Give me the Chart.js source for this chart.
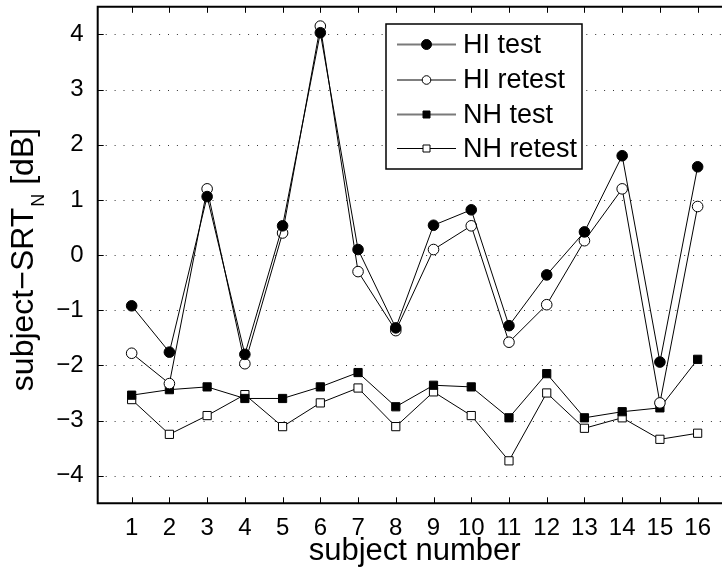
<!DOCTYPE html>
<html>
<head>
<meta charset="utf-8">
<script src="https://cdn.jsdelivr.net/npm/chart.js@4"></script>
<style>
html,body{margin:0;padding:0;background:#fff;overflow:hidden;}
#wrap{width:722px;height:572px;overflow:hidden;position:relative;}
canvas{display:block;}
</style>
</head>
<body>
<div id="wrap"><canvas id="c" width="740" height="572" style="width:740px;height:572px"></canvas></div>
<script>
// ---- data ----
const subjects = [1,2,3,4,5,6,7,8,9,10,11,12,13,14,15,16];
const hiTest   = [-0.92,-1.76,1.06,-1.80,0.53,4.03,0.10,-1.32,0.54,0.82,-1.28,-0.36,0.42,1.80,-1.94,1.60];
const hiRetest = [-1.78,-2.33,1.20,-1.97,0.40,4.15,-0.30,-1.37,0.10,0.53,-1.58,-0.90,0.26,1.20,-2.68,0.88];
const nhTest   = [-2.54,-2.44,-2.39,-2.60,-2.60,-2.39,-2.13,-2.75,-2.36,-2.39,-2.95,-2.15,-2.95,-2.84,-2.77,-1.89];
const nhRetest = [-2.62,-3.25,-2.91,-2.53,-3.11,-2.68,-2.41,-3.11,-2.48,-2.91,-3.73,-2.50,-3.14,-2.95,-3.34,-3.23];
const yTickValues = [-4,-3,-2,-1,0,1,2,3,4];
const seriesLabels = ['HI test','HI retest','NH test','NH retest'];
const xTitle = 'subject number';
const yTitleMain = 'subject\u2212SRT';
const yTitleSub = 'N';
const yTitleUnit = ' [dB]';

const FONT = '"Liberation Sans", Arial, Helvetica, sans-serif';

const toPts = arr => arr.map((v,i) => ({x: subjects[i], y: v}));

const styles = [
  {pointStyle:'circle', fill:'#000', r:5.3},
  {pointStyle:'circle', fill:'#fff', r:5.3},
  {pointStyle:'rect',   fill:'#000', r:5.8},
  {pointStyle:'rect',   fill:'#fff', r:5.8}
];
const seriesData = [hiTest, hiRetest, nhTest, nhRetest];

const datasets = seriesData.map((arr, i) => ({
  label: seriesLabels[i],
  data: toPts(arr),
  borderColor: '#000',
  borderWidth: 1,
  pointStyle: styles[i].pointStyle,
  pointRadius: styles[i].r,
  pointHoverRadius: styles[i].r,
  pointBackgroundColor: styles[i].fill,
  pointBorderColor: '#000',
  pointBorderWidth: 1,
  tension: 0,
  fill: false
}));

const framePlugin = {
  id: 'frame',
  beforeDatasetsDraw(chart) {
    const ctx = chart.ctx, ca = chart.chartArea;
    const xs = chart.scales.x, ys = chart.scales.y;
    ctx.save();
    // dotted horizontal grid
    ctx.strokeStyle = '#333';
    ctx.lineWidth = 1;
    ctx.setLineDash([1, 7.9]);
    yTickValues.forEach(v => {
      const y = Math.round(ys.getPixelForValue(v)) + 0.5;
      ctx.beginPath();
      ctx.moveTo(ca.left + 8, y);
      ctx.lineTo(ca.right, y);
      ctx.stroke();
    });
    ctx.setLineDash([]);
    // inward ticks
    ctx.strokeStyle = '#000';
    ctx.lineWidth = 1;
    subjects.forEach(s => {
      const x = Math.round(xs.getPixelForValue(s)) + 0.5;
      ctx.beginPath();
      ctx.moveTo(x, ca.bottom); ctx.lineTo(x, ca.bottom - 6);
      ctx.moveTo(x, ca.top); ctx.lineTo(x, ca.top + 6);
      ctx.stroke();
    });
    yTickValues.forEach(v => {
      const y = Math.round(ys.getPixelForValue(v)) + 0.5;
      ctx.beginPath();
      ctx.moveTo(ca.left, y); ctx.lineTo(ca.left + 6, y);
      ctx.moveTo(ca.right, y); ctx.lineTo(ca.right - 6, y);
      ctx.stroke();
    });
    // frame
    ctx.lineWidth = 2;
    ctx.beginPath();
    ctx.moveTo(ca.left, ca.top); ctx.lineTo(ca.right, ca.top);
    ctx.lineTo(ca.right, ca.bottom); ctx.lineTo(ca.left, ca.bottom);
    ctx.closePath();
    ctx.stroke();
    ctx.restore();
  },
  afterDraw(chart) {
    const ctx = chart.ctx, ca = chart.chartArea;
    ctx.save();
    // x title
    ctx.fillStyle = '#000';
    ctx.font = '31px ' + FONT;
    ctx.textAlign = 'center';
    ctx.textBaseline = 'alphabetic';
    ctx.fillText(xTitle, (ca.left + ca.right) / 2, 560);
    // y title (rotated, with subscript)
    ctx.translate(33, 260);
    ctx.rotate(-Math.PI / 2);
    const mainFont = '32px ' + FONT, subFont = '18px ' + FONT;
    ctx.font = mainFont; const w1 = ctx.measureText(yTitleMain).width;
    const w3 = ctx.measureText(yTitleUnit).width;
    ctx.font = subFont; const w2 = ctx.measureText(yTitleSub).width;
    let x0 = -(w1 + w2 + w3) / 2;
    ctx.textAlign = 'left';
    ctx.font = mainFont; ctx.fillText(yTitleMain, x0, 0);
    ctx.font = subFont; ctx.fillText(yTitleSub, x0 + w1 + 1, 10.5);
    ctx.font = mainFont; ctx.fillText(yTitleUnit, x0 + w1 + w2 + 1, 0);
    ctx.restore();

    // legend
    ctx.save();
    const bx = 386, by = 24, bw = 196, bh = 145;
    ctx.fillStyle = '#fff';
    ctx.fillRect(bx, by, bw, bh);
    ctx.strokeStyle = '#000';
    ctx.lineWidth = 1.5;
    ctx.strokeRect(bx, by, bw, bh);
    const rows = [44.5, 80, 114.5, 148.5];
    chart.data.datasets.forEach((ds, i) => {
      const y = rows[i];
      ctx.beginPath();
      ctx.strokeStyle = (i % 2 === 0) ? '#7a7a7a' : '#000';
      ctx.lineWidth = (i % 2 === 0) ? 2 : 1;
      ctx.moveTo(397, y); ctx.lineTo(456, y);
      ctx.stroke();
      ctx.fillStyle = ds.pointBackgroundColor;
      ctx.strokeStyle = '#000';
      ctx.lineWidth = 1;
      ctx.beginPath();
      if (ds.pointStyle === 'rect') {
        const s = 7;
        ctx.rect(426.5 - s/2, y - s/2, s, s);
      } else {
        ctx.arc(426.5, y, i === 0 ? 5 : 4.3, 0, Math.PI * 2);
      }
      ctx.fill(); ctx.stroke();
      ctx.fillStyle = '#000';
      ctx.font = '27px ' + FONT;
      ctx.textAlign = 'left';
      ctx.textBaseline = 'middle';
      ctx.fillText(ds.label, 463, y + 1);
    });
    ctx.restore();
  }
};

new Chart(document.getElementById('c'), {
  type: 'line',
  data: { datasets },
  options: {
    responsive: false,
    animation: false,
    devicePixelRatio: 1,
    layout: { padding: { left: 0, top: 6.3, right: 8.4, bottom: 0 } },
    plugins: { legend: { display: false }, tooltip: { enabled: false } },
    scales: {
      x: {
        type: 'linear',
        min: 0.1, max: 16.9,
        grid: { display: false },
        border: { display: false },
        afterBuildTicks: s => { s.ticks = subjects.map(v => ({ value: v })); },
        afterFit: s => { s.height = 68.7; s.paddingLeft = 0; s.paddingRight = 0; },
        ticks: {
          autoSkip: false, maxRotation: 0,
          padding: 3,
          color: '#000',
          font: { family: FONT, size: 24 },
          callback: v => String(v)
        }
      },
      y: {
        type: 'linear',
        min: -4.5, max: 4.5,
        grid: { display: false },
        border: { display: false },
        afterBuildTicks: s => { s.ticks = yTickValues.map(v => ({ value: v })); },
        afterFit: s => { s.width = 97.7; s.paddingTop = 0; s.paddingBottom = 0; },
        ticks: {
          autoSkip: false,
          padding: 6,
          color: '#000',
          font: { family: FONT, size: 24 },
          callback: v => (v < 0 ? '\u2212' + Math.abs(v) : String(v))
        }
      }
    }
  },
  plugins: [framePlugin]
});
</script>
</body>
</html>
